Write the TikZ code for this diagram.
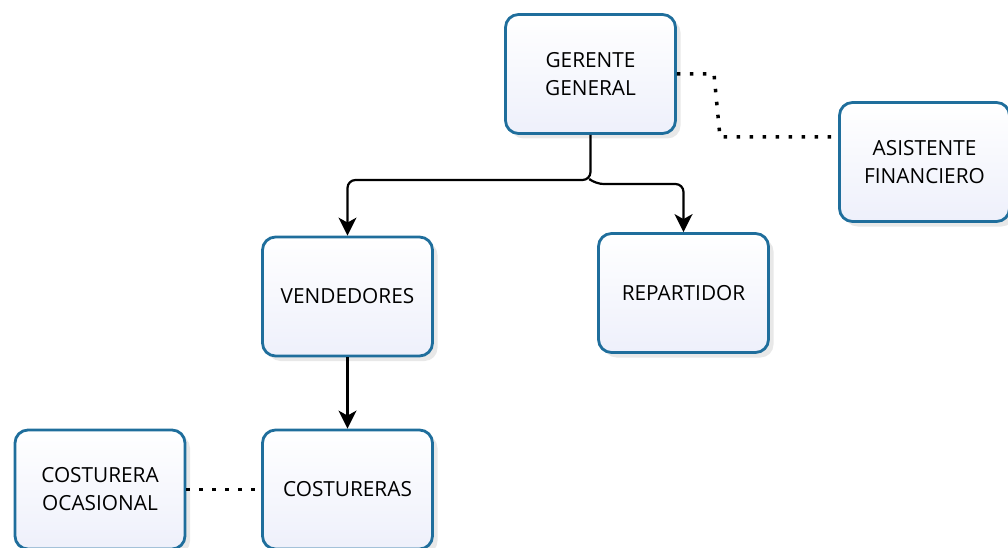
\documentclass[tikz,border=0pt]{standalone}
\usepackage{fontspec}
\setmainfont{Open Sans}
\usetikzlibrary{shadows,calc,arrows.meta}
\definecolor{boxborder}{HTML}{1F6E9C}
\definecolor{boxfill}{HTML}{EEF0FB}
\tikzset{
  box/.style={draw=boxborder, line width=2.8pt, rounded corners=13pt,
    top color=white, bottom color=boxfill, minimum width=170pt, minimum height=119pt,
    align=center, font=\fontsize{20.8}{28}\selectfont, inner sep=0pt,
    drop shadow={shadow xshift=5pt, shadow yshift=-5pt, opacity=0.18, fill=gray}},
  conn/.style={draw=black, line width=2.2pt, rounded corners=8pt,
    -{Stealth[length=18pt,width=18pt,inset=5pt]}},
  dots/.style={draw=black, line width=3.5pt, dash pattern=on 3.5pt off 9.5pt}
}
\begin{document}
\begin{tikzpicture}[x=1pt,y=-1pt]
\useasboundingbox (0,0) rectangle (1008,548);
\node[box] (ger) at (590.5,74) {GERENTE\\GENERAL};
\node[box] (asi) at (924.5,162) {ASISTENTE\\FINANCIERO};
\node[box] (ven) at (347.5,296.5) {VENDEDORES};
\node[box] (rep) at (683.5,293) {REPARTIDOR};
\node[box] (oca) at (100,489.5) {COSTURERA\\OCASIONAL};
\node[box] (cos) at (347.5,489.5) {COSTURERAS};
\coordinate (j) at (590.5,180);
\draw[conn] (ger.south) -- (j) -| (ven.north);
\draw[conn] (j) -- ++(5,4) -| (rep.north);
\draw[conn] (ven.south) -- (cos.north);
\draw[dots] (ger.east) -- (714,74) -- (720,137) -- ($(asi.west)+(0,-25)$);
\draw[dots] (oca.east) -- (cos.west);
\end{tikzpicture}
\end{document}
